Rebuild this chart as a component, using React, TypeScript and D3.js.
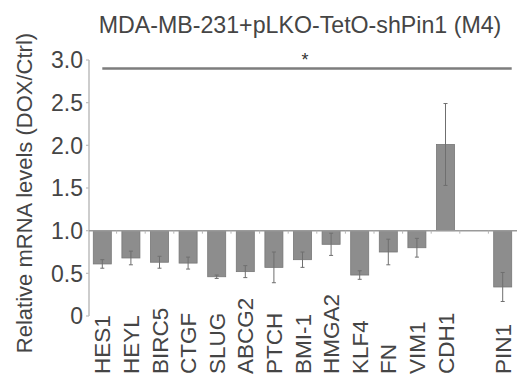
import { useEffect, useRef } from 'react'
import * as d3 from 'd3'

const TITLE = 'MDA-MB-231+pLKO-TetO-shPin1 (M4)'
const Y_LABEL = 'Relative mRNA levels (DOX/Ctrl)'
const GENES = ['HES1', 'HEYL', 'BIRC5', 'CTGF', 'SLUG', 'ABCG2', 'PTCH', 'BMI-1', 'HMGA2', 'KLF4', 'FN', 'VIM1', 'CDH1', 'PIN1']
// empty slot between CDH1 and PIN1
const SLOTS = ['HES1', 'HEYL', 'BIRC5', 'CTGF', 'SLUG', 'ABCG2', 'PTCH', 'BMI-1', 'HMGA2', 'KLF4', 'FN', 'VIM1', 'CDH1', 'gap', 'PIN1']
const VALUES = [0.61, 0.68, 0.63, 0.62, 0.46, 0.52, 0.57, 0.66, 0.84, 0.48, 0.75, 0.80, 2.01, 0.34]
const ERRORS = [0.05, 0.08, 0.07, 0.07, 0.02, 0.07, 0.18, 0.09, 0.13, 0.05, 0.15, 0.11, 0.48, 0.17]
const Y_TICKS = [0, 0.5, 1, 1.5, 2, 2.5, 3]
const BASELINE = 1
const SIG_LEVEL = 2.9

const W = 523, H = 374
const FONT = '"Liberation Sans", Arial, Helvetica, sans-serif'
const TEXT = '#454545'

export default function App() {
  const svgRef = useRef<SVGSVGElement>(null)

  useEffect(() => {
    const svg = d3.select(svgRef.current)
    svg.selectAll('*').remove()

    const x = d3.scaleBand().domain(SLOTS).range([88, 517]).paddingInner(0.37).paddingOuter(0.185)
    const y = d3.scaleLinear().domain([0, 3]).range([316, 60])
    const bw = x.bandwidth()
    const axisX = 89

    // title
    svg.append('text').attr('x', 300).attr('y', 33).attr('text-anchor', 'middle')
      .attr('font-family', FONT).attr('font-size', 23.2).attr('fill', TEXT).text(TITLE)

    // y label
    svg.append('text').attr('transform', `translate(32,${(y(0) + y(3)) / 2 + 5}) rotate(-90)`)
      .attr('text-anchor', 'middle').attr('font-family', FONT).attr('font-size', 22).attr('fill', TEXT)
      .text(Y_LABEL)

    // y axis
    const ya = svg.append('g')
    ya.append('line').attr('x1', axisX).attr('x2', axisX).attr('y1', y(0)).attr('y2', y(3))
      .attr('stroke', '#bdbdbd').attr('stroke-width', 1.5)
    Y_TICKS.forEach(t => {
      ya.append('line').attr('x1', axisX - 3).attr('x2', axisX).attr('y1', y(t)).attr('y2', y(t))
        .attr('stroke', '#bdbdbd').attr('stroke-width', 1.2)
      ya.append('text').attr('x', axisX - 6).attr('y', y(t)).attr('dy', '0.36em').attr('text-anchor', 'end')
        .attr('font-family', FONT).attr('font-size', 23).attr('fill', TEXT)
        .text(t === 0 ? '0' : d3.format('.1f')(t))
    })

    // bars
    const g = svg.append('g')
    GENES.forEach((name, i) => {
      const v = VALUES[i], e = ERRORS[i]
      const x0 = x(name)!
      const top = Math.min(y(v), y(BASELINE)), bot = Math.max(y(v), y(BASELINE))
      g.append('rect').attr('x', x0).attr('y', top).attr('width', bw).attr('height', bot - top)
        .attr('fill', '#8d8d8d').attr('stroke', '#777').attr('stroke-width', 0.8)
      const cx = x0 + bw / 2
      g.append('line').attr('x1', cx).attr('x2', cx).attr('y1', y(v - e)).attr('y2', y(v + e))
        .attr('stroke', '#6f6f6f').attr('stroke-width', 1)
      ;[v - e, v + e].forEach(p => {
        g.append('line').attr('x1', cx - 2).attr('x2', cx + 2).attr('y1', y(p)).attr('y2', y(p))
          .attr('stroke', '#6f6f6f').attr('stroke-width', 1)
      })
    })

    // baseline at 1.0 with small category ticks
    svg.append('line').attr('x1', axisX).attr('x2', 517).attr('y1', y(BASELINE)).attr('y2', y(BASELINE))
      .attr('stroke', '#9a9a9a').attr('stroke-width', 1.5)
    SLOTS.slice(1).forEach(s => {
      const bx = x(s)! - (x.step() - bw) / 2
      svg.append('line').attr('x1', bx).attr('x2', bx).attr('y1', y(BASELINE)).attr('y2', y(BASELINE) + 3)
        .attr('stroke', '#b5b5b5').attr('stroke-width', 1)
    })

    // x labels: read bottom-up, all starting at the bottom edge
    GENES.forEach(name => {
      const cx = x(name)! + bw / 2
      svg.append('text').attr('transform', `translate(${cx},374) rotate(-90)`)
        .attr('dy', '0.36em').attr('text-anchor', 'start')
        .attr('font-family', FONT).attr('font-size', 22.5).attr('fill', TEXT).text(name)
    })

    // significance bar
    const sx1 = x(GENES[0])! + bw / 2
    const sx2 = x(GENES[GENES.length - 1])! + bw
    svg.append('line').attr('x1', sx1).attr('x2', sx2).attr('y1', y(SIG_LEVEL)).attr('y2', y(SIG_LEVEL))
      .attr('stroke', '#7d7d7d').attr('stroke-width', 2.5)
    svg.append('text').attr('x', (sx1 + sx2) / 2 - 2).attr('y', y(SIG_LEVEL) - 3).attr('text-anchor', 'middle')
      .attr('font-family', FONT).attr('font-size', 18).attr('fill', '#333').text('*')
  }, [])

  return (
    <svg ref={svgRef} width={W} height={H}
      style={{ position: 'absolute', left: 0, top: 0, background: '#fff' }} />
  )
}
